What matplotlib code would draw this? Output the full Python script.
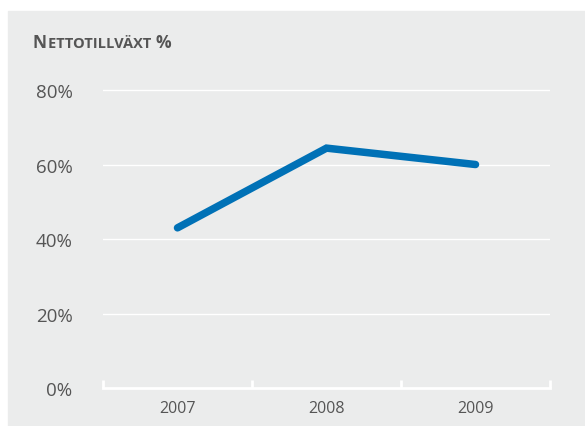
import matplotlib.pyplot as plt
from matplotlib.patches import Rectangle

years = ['2007', '2008', '2009']
growth = [43.0, 64.4, 60.0]
yticks = [0, 20, 40, 60, 80]
ylabels = ['0%', '20%', '40%', '60%', '80%']

plt.rcParams['font.family'] = ['Open Sans', 'DejaVu Sans']
bg = '#ebecec'
txt = '#555555'

fig = plt.figure(figsize=(5.85, 4.27), dpi=100)
fig.patches.append(Rectangle((8/585, 0), 1 - 8/585, (427-12)/427,
                             transform=fig.transFigure, color=bg, zorder=-10))

ax = fig.add_axes([103/585, 38/427, 447/585, (389-72.4)/427])
ax.set_facecolor('none')
ax.plot(range(len(years)), growth, color='#0071b6', lw=5.4,
        solid_capstyle='round', solid_joinstyle='miter', zorder=3)

ax.set_xlim(-0.5, 2.5)
ax.set_ylim(0, 85)
for y in yticks[1:]:
    ax.axhline(y, color='white', lw=1, zorder=1)

for s in ['top', 'right', 'left']:
    ax.spines[s].set_visible(False)
ax.spines['bottom'].set_color('white')
ax.spines['bottom'].set_linewidth(2)
ax.spines['bottom'].set_zorder(2)

ax.set_xticks([-0.5, 0.5, 1.5, 2.5])
ax.set_xticklabels([])
ax.set_xticks([0, 1, 2], minor=True)
ax.set_xticklabels(years, minor=True, fontsize=11.5, color=txt)
ax.tick_params(axis='x', which='major', direction='in', length=6, width=2, color='white')
ax.tick_params(axis='x', which='minor', length=0, pad=9)

ax.set_yticks(yticks)
ax.set_yticklabels(ylabels, fontsize=13.5, color=txt)
ax.tick_params(axis='y', length=0, pad=22)

# title in small caps, built piece by piece
r = fig.canvas.get_renderer()
x = 33
for part, size in [('N', 12.5), ('ETTOTILLVÄXT ', 10.5), ('%', 12.5)]:
    t = fig.text(x/585, 1 - 48/427, part, fontsize=size, fontweight='bold',
                 color=txt, va='baseline')
    x += t.get_window_extent(r).width + 0.5

fig.savefig('out.png', dpi=100)
